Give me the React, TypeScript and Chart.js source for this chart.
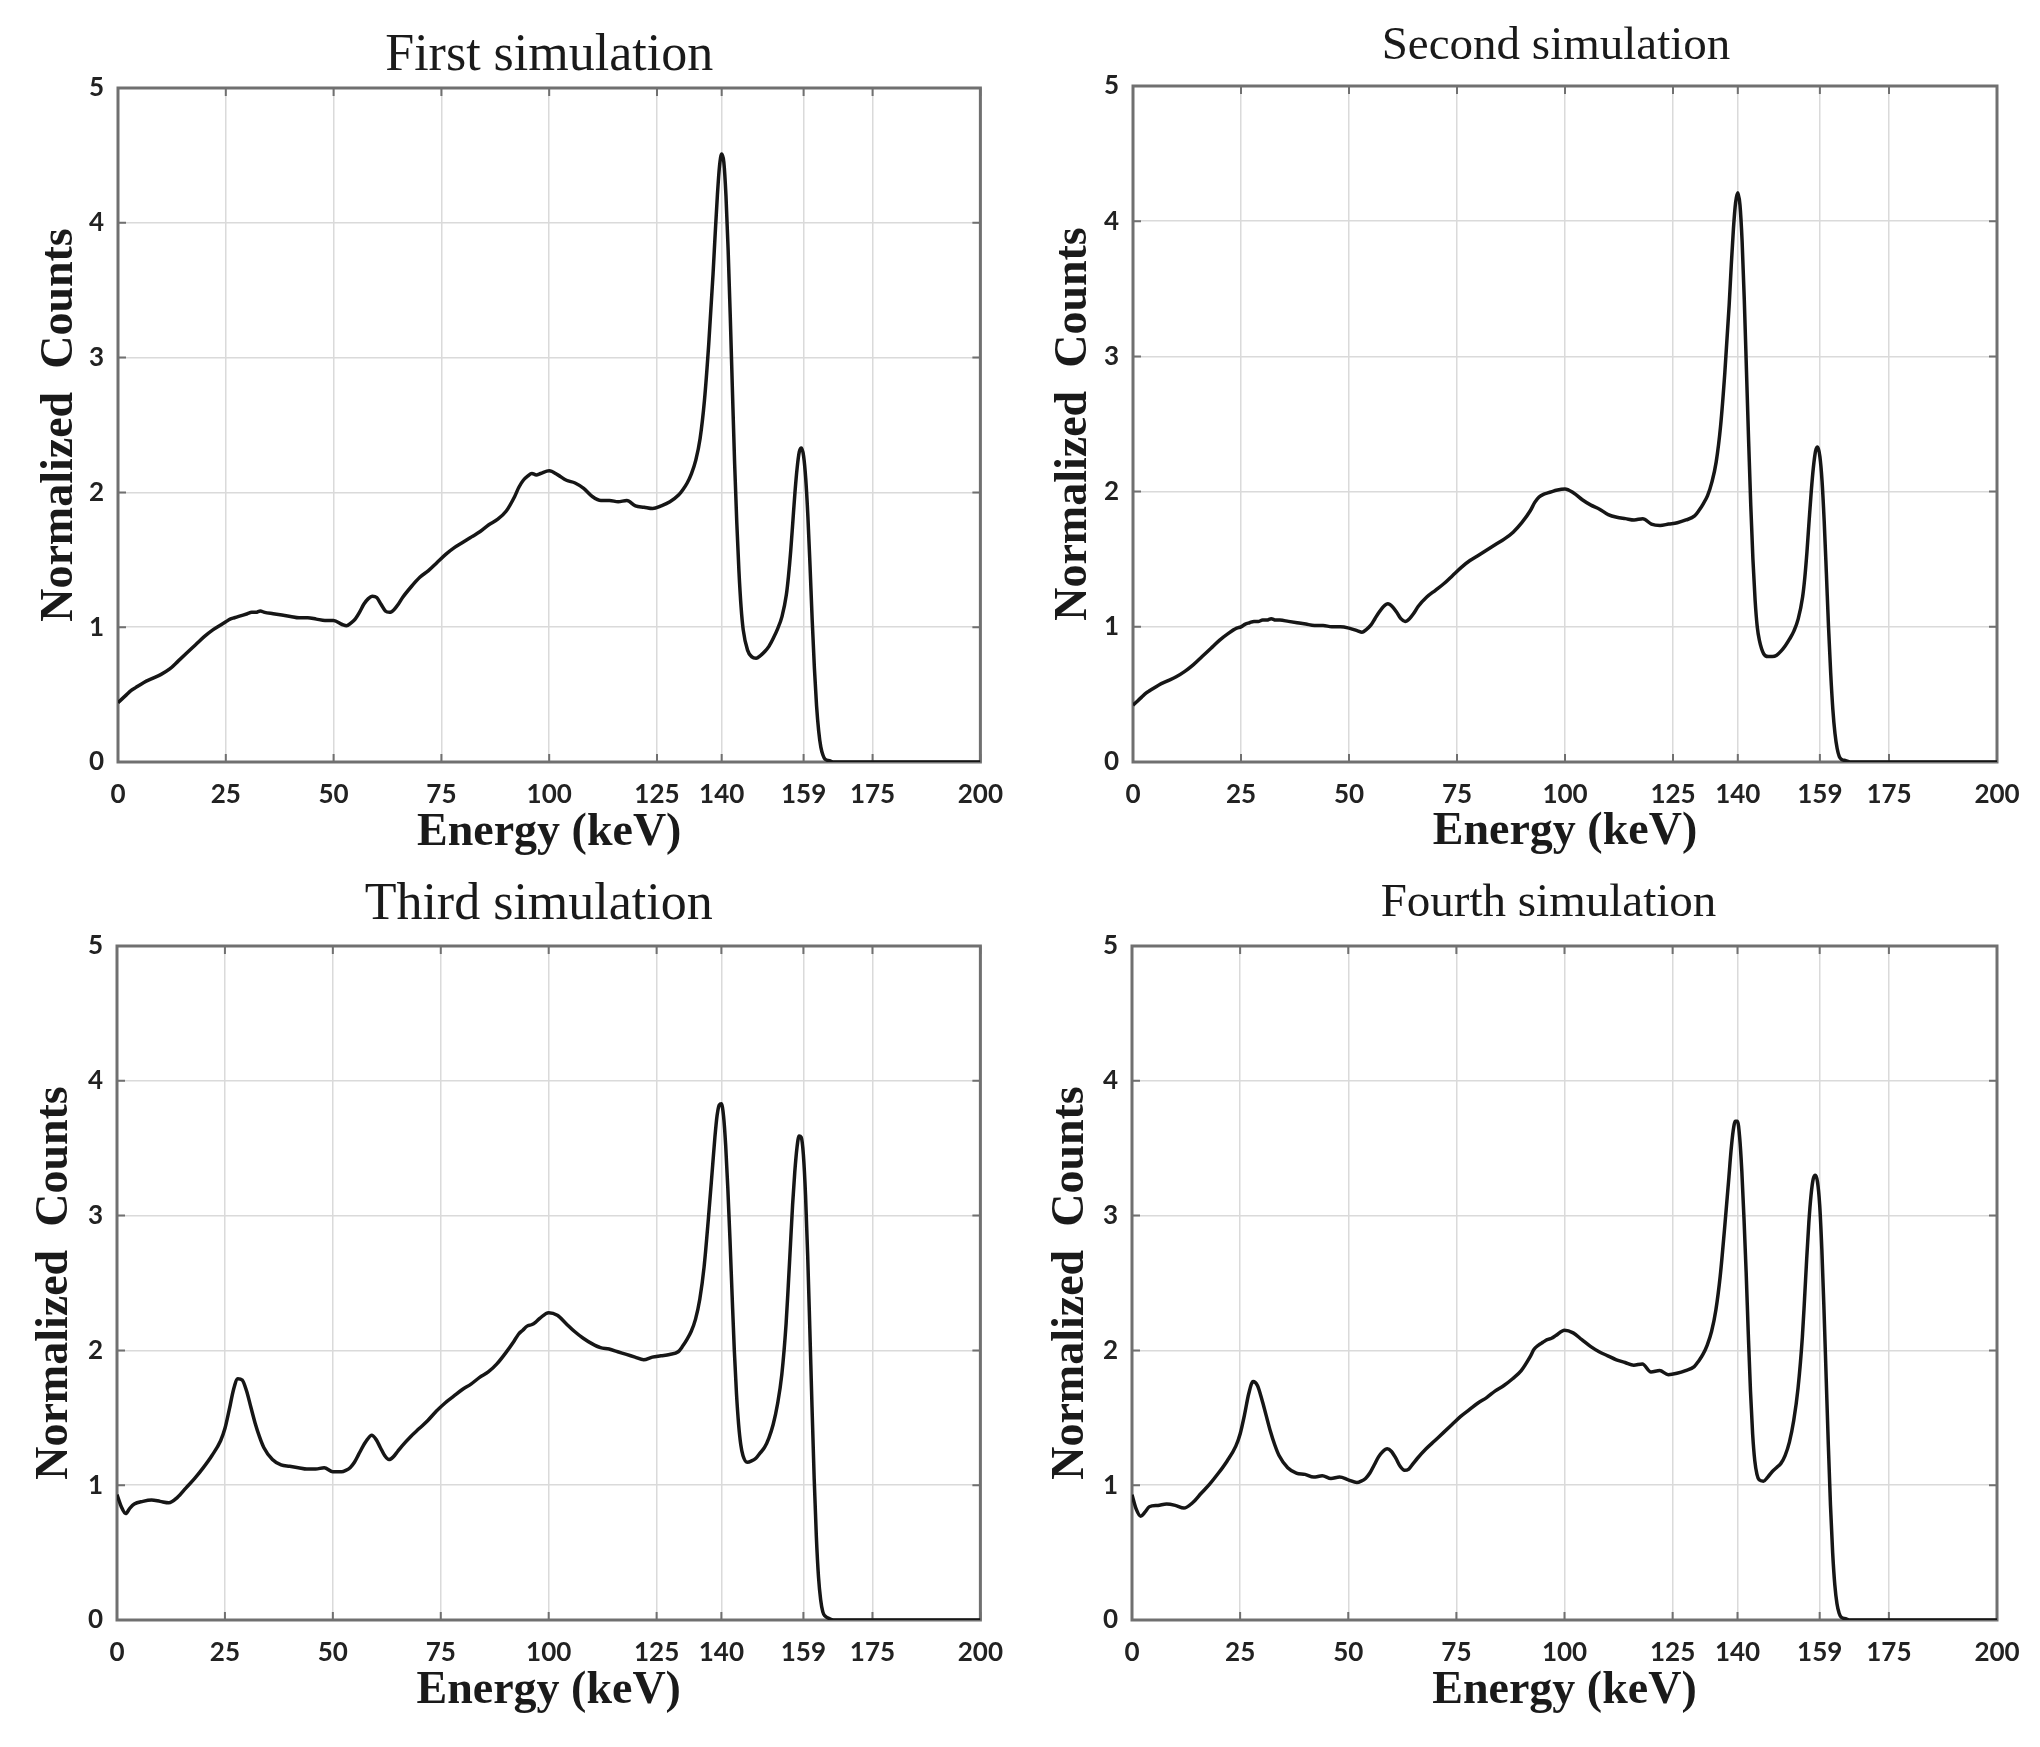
import React, { useEffect, useRef } from "react";
import { Chart, registerables } from "chart.js";

Chart.register(...registerables);

// ---------------- data ----------------
const energy = [
  0, 1, 2, 3, 4,
  6, 8, 10, 12, 14, 16, 18, 20, 22, 24,
  25, 26, 27, 28, 29, 30, 31, 32, 33, 34,
  36, 38, 40, 42, 44, 46, 48, 50, 52,
  53, 54, 55, 56, 57, 58, 59, 60, 61, 62, 63, 64, 65, 66,
  68, 70, 72, 74, 76, 78, 80, 82, 84, 86, 88, 90, 92,
  93, 94, 95, 96, 97, 98,
  100, 102, 104, 106, 108, 110, 112, 114, 116, 118, 120, 122, 124, 126, 128, 130,
  131, 132, 133, 134, 135, 136, 137, 138,
  138.5, 139, 139.5, 140, 140.5, 141, 141.5, 142, 142.5, 143, 143.5, 144, 144.5,
  145, 146, 147, 148, 149, 150, 151, 152, 153, 154, 155,
  155.5, 156, 156.5, 157, 157.5, 158, 158.5, 159, 159.5, 160, 160.5, 161, 161.5, 162, 162.5, 163, 163.5,
  164, 165, 166, 168, 170, 175, 180, 190, 200,
];

const countsFirst = [
  0.44, 0.47, 0.5, 0.53, 0.55,
  0.59, 0.62, 0.65, 0.69, 0.75, 0.81, 0.87, 0.93, 0.98, 1.02,
  1.04, 1.06, 1.07, 1.08, 1.09, 1.1, 1.11, 1.11, 1.12, 1.11,
  1.1, 1.09, 1.08, 1.07, 1.07, 1.06, 1.05, 1.05, 1.02,
  1.01, 1.03, 1.06, 1.11, 1.17, 1.21, 1.23, 1.22, 1.17, 1.12, 1.11, 1.13, 1.17, 1.22,
  1.3, 1.37, 1.42, 1.48, 1.54, 1.59, 1.63, 1.67, 1.71, 1.76, 1.8, 1.86, 1.97,
  2.04, 2.09, 2.12, 2.14, 2.13, 2.14,
  2.16, 2.13, 2.09, 2.07, 2.03, 1.97, 1.94, 1.94, 1.93, 1.94, 1.9, 1.89, 1.88, 1.9, 1.93, 1.98,
  2.02, 2.07, 2.14, 2.24, 2.4, 2.68, 3.1, 3.62,
  3.92, 4.2, 4.42, 4.51, 4.45, 4.2, 3.8, 3.3, 2.75, 2.22, 1.78, 1.42, 1.15,
  0.98, 0.83, 0.78, 0.77, 0.79, 0.82, 0.86, 0.92, 0.99, 1.08, 1.24,
  1.38, 1.56, 1.78, 2.0, 2.18, 2.3, 2.33, 2.27, 2.1, 1.82, 1.45, 1.05, 0.7, 0.42, 0.23, 0.11, 0.05,
  0.02, 0.01, 0, 0, 0, 0, 0, 0, 0,
];

const countsSecond = [
  0.42, 0.45, 0.48, 0.51, 0.53,
  0.57, 0.6, 0.63, 0.67, 0.72, 0.78, 0.84, 0.9, 0.95, 0.99,
  1.0, 1.02, 1.03, 1.04, 1.04, 1.05, 1.05, 1.06, 1.05, 1.05,
  1.04, 1.03, 1.02, 1.01, 1.01, 1.0, 1.0, 0.99, 0.97,
  0.96, 0.98, 1.01, 1.06, 1.11, 1.15, 1.17, 1.15, 1.11, 1.06, 1.04, 1.06, 1.1, 1.15,
  1.22, 1.27, 1.32, 1.38, 1.44, 1.49, 1.53, 1.57, 1.61, 1.65, 1.7, 1.77, 1.86,
  1.92, 1.96, 1.98, 1.99, 2.0, 2.01,
  2.02, 1.99, 1.94, 1.9, 1.87, 1.83, 1.81, 1.8, 1.79, 1.8, 1.76, 1.75, 1.76, 1.77, 1.79, 1.82,
  1.86, 1.91, 1.97, 2.07, 2.22, 2.48, 2.88, 3.38,
  3.68, 3.95, 4.14, 4.21, 4.12, 3.85, 3.42, 2.9, 2.38, 1.9, 1.5, 1.2, 1.0,
  0.9, 0.8, 0.78, 0.78, 0.79, 0.82, 0.86, 0.91, 0.97, 1.06, 1.22,
  1.36, 1.55, 1.78, 2.0, 2.18, 2.3, 2.33, 2.26, 2.08, 1.78, 1.4, 1.0, 0.66, 0.39, 0.21, 0.1, 0.04,
  0.02, 0.01, 0, 0, 0, 0, 0, 0, 0,
];

const countsThird = [
  0.93, 0.84, 0.79, 0.83, 0.86,
  0.88, 0.89, 0.88, 0.87, 0.91, 0.98, 1.05, 1.13, 1.22, 1.33,
  1.42, 1.56, 1.71, 1.79, 1.78, 1.7, 1.58, 1.46, 1.36, 1.28,
  1.19, 1.15, 1.14, 1.13, 1.12, 1.12, 1.13, 1.1, 1.1,
  1.11, 1.13, 1.17, 1.23, 1.29, 1.34, 1.37, 1.34, 1.28, 1.22, 1.19, 1.21, 1.25, 1.29,
  1.36, 1.42, 1.48, 1.55, 1.61, 1.66, 1.71, 1.75, 1.8, 1.84, 1.9, 1.98, 2.07,
  2.12, 2.15, 2.18, 2.19, 2.21, 2.24,
  2.28, 2.26, 2.2, 2.14, 2.09, 2.05, 2.02, 2.01, 1.99, 1.97, 1.95, 1.93, 1.95, 1.96, 1.97, 1.99,
  2.03, 2.08, 2.14, 2.23, 2.38, 2.62, 2.98, 3.38,
  3.58, 3.74, 3.82, 3.83, 3.74, 3.52, 3.2, 2.82, 2.4, 2.0, 1.68, 1.45, 1.3,
  1.22, 1.17, 1.18, 1.2, 1.24, 1.28, 1.35, 1.45, 1.6, 1.82, 2.2,
  2.48, 2.78, 3.08, 3.32, 3.5, 3.59, 3.58, 3.45, 3.15, 2.7, 2.15, 1.58, 1.05, 0.62, 0.32, 0.15, 0.06,
  0.03, 0.01, 0, 0, 0, 0, 0, 0, 0,
];

const countsFourth = [
  0.93, 0.82, 0.77, 0.8, 0.84,
  0.85, 0.86, 0.85, 0.83, 0.87, 0.94, 1.01, 1.09, 1.18, 1.29,
  1.38, 1.52, 1.68, 1.77, 1.74, 1.64, 1.52, 1.4, 1.3, 1.22,
  1.13, 1.09, 1.08, 1.06, 1.07, 1.05, 1.06, 1.04, 1.02,
  1.03, 1.05, 1.09, 1.15, 1.21, 1.25, 1.27, 1.25, 1.2, 1.14, 1.11, 1.12, 1.16, 1.2,
  1.27, 1.33, 1.39, 1.45, 1.51, 1.56, 1.61, 1.65, 1.7, 1.74, 1.79, 1.85, 1.95,
  2.01, 2.04, 2.06, 2.08, 2.09, 2.11,
  2.15, 2.13, 2.08, 2.03, 1.99, 1.96, 1.93, 1.91, 1.89, 1.9, 1.84, 1.85, 1.82, 1.83, 1.85, 1.88,
  1.92, 1.97, 2.04, 2.14, 2.3, 2.55, 2.9, 3.28,
  3.48, 3.63, 3.7, 3.7, 3.58, 3.33, 2.98, 2.58, 2.12, 1.7, 1.38, 1.18, 1.08,
  1.04, 1.03, 1.06, 1.1, 1.13, 1.16, 1.22, 1.32, 1.48, 1.72, 2.1,
  2.38, 2.68, 2.95, 3.15, 3.27, 3.3, 3.25, 3.08, 2.75, 2.3, 1.8, 1.3, 0.85, 0.5, 0.26, 0.12, 0.05,
  0.02, 0.01, 0, 0, 0, 0, 0, 0, 0,
];

const xTickValues = [0, 25, 50, 75, 100, 125, 140, 159, 175, 200];
const yTickValues = [0, 1, 2, 3, 4, 5];
const panelTitles = ["First simulation", "Second simulation", "Third simulation", "Fourth simulation"];
const xAxisTitle = "Energy (keV)";
const yAxisTitle = "Normalized  Counts";

// ---------------- layout ----------------
type PanelLayout = {
  x: number; y: number; w: number; h: number;
  l: number; r: number; t: number; b: number;
  titleY: number; titleDx: number; titleSize: number; yTitlePad: number; xTitlePad: number;
};

const layouts: PanelLayout[] = [
  { x: 0, y: 0, w: 1020, h: 870, l: 118, r: 983, t: 88, b: 762, titleY: 56, titleDx: 0, titleSize: 52, yTitlePad: 33, xTitlePad: 9 },
  { x: 1020, y: 0, w: 1020, h: 870, l: 113, r: 977, t: 86, b: 762, titleY: 47, titleDx: -9, titleSize: 47, yTitlePad: 27, xTitlePad: 10 },
  { x: 0, y: 870, w: 1020, h: 877, l: 117, r: 983, t: 76, b: 750, titleY: 35, titleDx: -10, titleSize: 52, yTitlePad: 28, xTitlePad: 28 },
  { x: 1020, y: 870, w: 1020, h: 877, l: 112, r: 977, t: 76, b: 750, titleY: 34, titleDx: -16, titleSize: 47, yTitlePad: 24, xTitlePad: 28 },
];

const seriesList = [countsFirst, countsSecond, countsThird, countsFourth];

const framePlugin = {
  id: "frame",
  beforeDatasetsDraw(chart: any) {
    const { ctx, chartArea: a, scales } = chart;
    const xs = scales.x;
    const ys = scales.y;
    ctx.save();
    ctx.strokeStyle = "#707070";
    ctx.lineWidth = 2;
    ctx.beginPath();
    for (const v of xTickValues) {
      const px = xs.getPixelForValue(v);
      ctx.moveTo(px, a.bottom);
      ctx.lineTo(px, a.bottom - 8);
      ctx.moveTo(px, a.top);
      ctx.lineTo(px, a.top + 8);
    }
    for (const v of yTickValues) {
      const py = ys.getPixelForValue(v);
      ctx.moveTo(a.left, py);
      ctx.lineTo(a.left + 8, py);
      ctx.moveTo(a.right, py);
      ctx.lineTo(a.right - 8, py);
    }
    ctx.stroke();
    ctx.lineWidth = 3;
    ctx.strokeRect(a.left, a.top, a.right - a.left, a.bottom - a.top);
    ctx.restore();
  },
  afterDraw(chart: any, _args: any, opts: any) {
    const { ctx, chartArea: a } = chart;
    ctx.save();
    ctx.fillStyle = "#1a1a1a";
    ctx.font = `${opts.size}px "Liberation Serif", "Times New Roman", serif`;
    ctx.textAlign = "center";
    ctx.textBaseline = "middle";
    ctx.fillText(opts.text, (a.left + a.right) / 2 + opts.dx, opts.y);
    ctx.restore();
  },
};

function SpectrumPanel({ idx }: { idx: number }) {
  const ref = useRef<HTMLCanvasElement | null>(null);
  const L = layouts[idx];
  useEffect(() => {
    if (!ref.current) return;
    const counts = seriesList[idx];
    const points = energy.map((e, i) => ({ x: e, y: counts[i] }));
    const tickFont = { family: "Lato, 'Open Sans', sans-serif", weight: "bold" as const, size: 26 };
    const titleFont = { family: "'Liberation Serif', 'Times New Roman', serif", weight: "bold" as const, size: 46 };
    const chart = new Chart(ref.current, {
      type: "line",
      data: {
        datasets: [
          {
            data: points,
            borderColor: "#161616",
            borderWidth: 3.5,
            pointRadius: 0,
            fill: false,
            cubicInterpolationMode: "monotone",
          },
        ],
      },
      options: {
        responsive: false,
        animation: false,
        devicePixelRatio: 1,
        layout: { padding: { left: 0, top: L.t, right: L.w - L.r, bottom: 0 } },
        plugins: {
          legend: { display: false },
          tooltip: { enabled: false },
          title: { display: false },
          frame: { text: panelTitles[idx], y: L.titleY, dx: L.titleDx, size: L.titleSize },
        } as any,
        scales: {
          x: {
            type: "linear",
            min: 0,
            max: 200,
            afterBuildTicks: (s: any) => {
              s.ticks = xTickValues.map((v) => ({ value: v }));
            },
            afterFit: (s: any) => {
              s.height = L.h - L.b;
            },
            grid: { color: "#dadada", lineWidth: 1.5, drawTicks: false },
            border: { display: false },
            ticks: {
              autoSkip: false,
              maxRotation: 0,
              minRotation: 0,
              padding: 17,
              color: "#222222",
              font: tickFont,
            },
            title: {
              display: true,
              text: xAxisTitle,
              color: "#1a1a1a",
              font: titleFont,
              padding: { top: 0, bottom: L.xTitlePad },
            },
          },
          y: {
            type: "linear",
            min: 0,
            max: 5,
            afterBuildTicks: (s: any) => {
              s.ticks = yTickValues.map((v) => ({ value: v }));
            },
            afterFit: (s: any) => {
              s.width = L.l;
            },
            grid: { color: "#dadada", lineWidth: 1.5, drawTicks: false },
            border: { display: false },
            ticks: {
              padding: 14,
              color: "#222222",
              font: tickFont,
            },
            title: {
              display: true,
              text: yAxisTitle,
              color: "#1a1a1a",
              font: titleFont,
              padding: { top: L.yTitlePad, bottom: 0 },
            },
          },
        },
      } as any,
      plugins: [framePlugin],
    });
    return () => chart.destroy();
  }, [idx]);
  return (
    <canvas
      ref={ref}
      width={L.w}
      height={L.h}
      style={{ position: "absolute", left: L.x, top: L.y, width: L.w, height: L.h }}
    />
  );
}

export default function App() {
  return (
    <div style={{ position: "absolute", left: 0, top: 0, width: 2040, height: 1747, background: "#ffffff" }}>
      {[0, 1, 2, 3].map((i) => (
        <SpectrumPanel key={i} idx={i} />
      ))}
    </div>
  );
}
